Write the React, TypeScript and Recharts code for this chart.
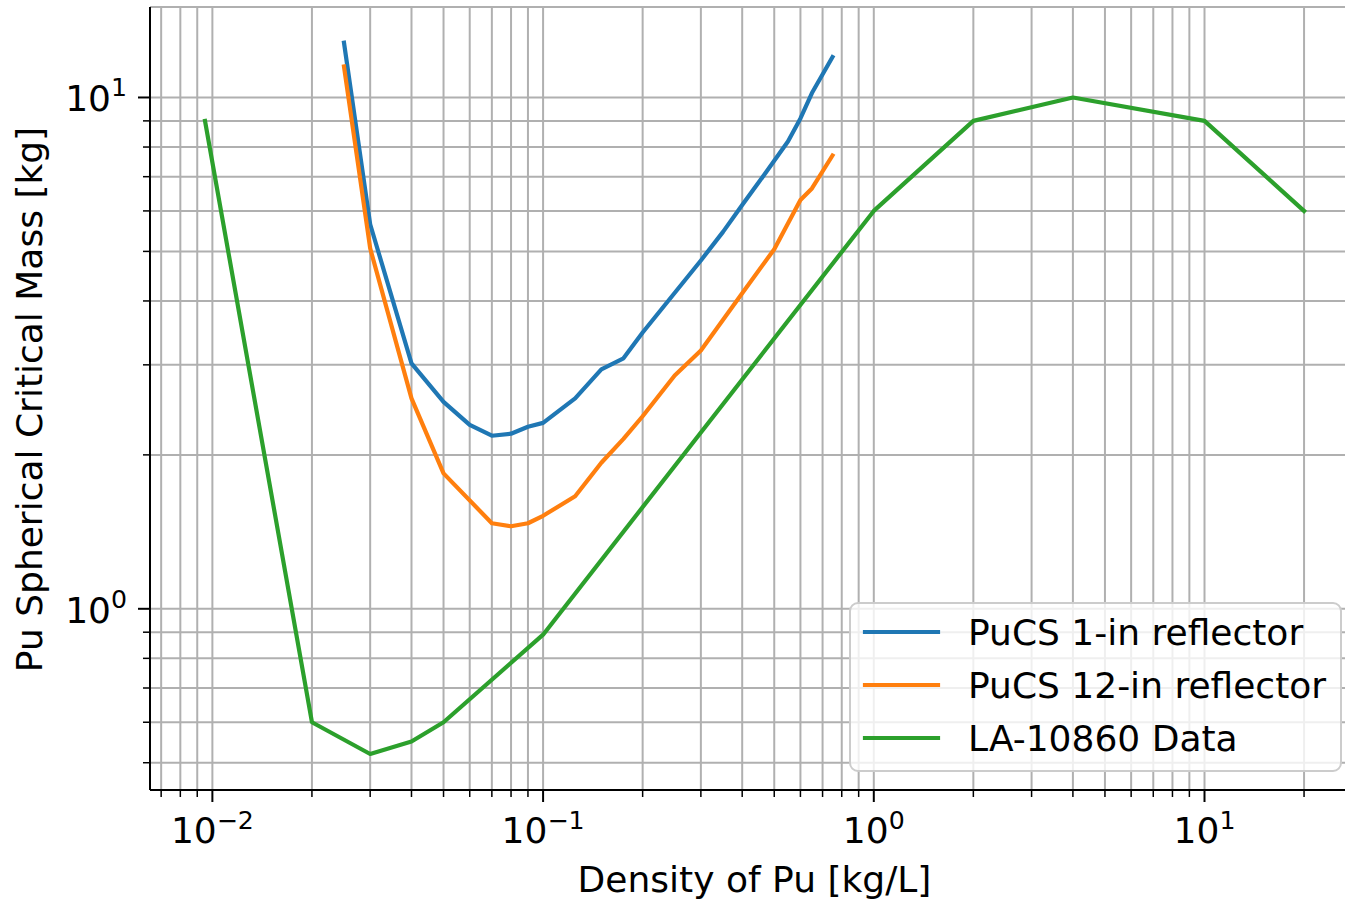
import React from "react";
import { LineChart, Line, XAxis, YAxis, CartesianGrid, Legend } from "recharts";

const FONT = "DejaVu Sans";

// PuCS 1-in reflector
const pucs1Density = [0.025, 0.03, 0.04, 0.05, 0.06, 0.07, 0.08, 0.09, 0.1, 0.125, 0.15, 0.175, 0.2, 0.3, 0.35, 0.4, 0.45, 0.55, 0.6, 0.65, 0.75];
const pucs1Mass = [12.8, 5.65, 3.02, 2.54, 2.29, 2.18, 2.2, 2.27, 2.31, 2.58, 2.94, 3.09, 3.47, 4.8, 5.46, 6.16, 6.84, 8.2, 9.1, 10.2, 12.0];

// PuCS 12-in reflector
const pucs12Density = [0.025, 0.03, 0.04, 0.05, 0.07, 0.08, 0.09, 0.1, 0.125, 0.15, 0.175, 0.2, 0.25, 0.3, 0.4, 0.5, 0.6, 0.65, 0.75];
const pucs12Mass = [11.5, 5.07, 2.58, 1.84, 1.47, 1.45, 1.47, 1.52, 1.66, 1.93, 2.15, 2.38, 2.86, 3.2, 4.14, 5.05, 6.3, 6.64, 7.7];

// LA-10860 Data
const laDensity = [0.0095, 0.02, 0.03, 0.04, 0.05, 0.1, 1, 2, 4, 10, 20];
const laMass = [9.0, 0.6, 0.52, 0.55, 0.6, 0.89, 6.0, 9.0, 10.0, 9.0, 6.0];

const seriesNames = ["PuCS 1-in reflector", "PuCS 12-in reflector", "LA-10860 Data"];

const xTicks = [0.007, 0.008, 0.009, 0.01, 0.02, 0.03, 0.04, 0.05, 0.06, 0.07, 0.08, 0.09, 0.1, 0.2, 0.3, 0.4, 0.5, 0.6, 0.7, 0.8, 0.9, 1, 2, 3, 4, 5, 6, 7, 8, 9, 10, 20];
const yTicks = [0.5, 0.6, 0.7, 0.8, 0.9, 1, 2, 3, 4, 5, 6, 7, 8, 9, 10];

const toPoints = (xs: number[], ys: number[]) => xs.map((x, i) => ({ x, y: ys[i] }));
const pucs1 = toPoints(pucs1Density, pucs1Mass);
const pucs12 = toPoints(pucs12Density, pucs12Mass);
const la = toPoints(laDensity, laMass);

const FS = 36;
const SUP = 25.2;

// exponent text for decade ticks, null for minor ones
function decadeExp(v: number): string | null {
  const e = Math.log10(v);
  const r = Math.round(e);
  if (Math.abs(e - r) > 1e-6) return null;
  return String(r).replace("-", "\u2212");
}

function XTick({ x, y, payload }: any) {
  const exp = decadeExp(payload.value);
  return (
    <g>
      <line x1={x} x2={x} y1={y} y2={y + (exp ? 12 : 7)} stroke="#000" strokeWidth={exp ? 2 : 1.5} />
      {exp && (
        <text x={x} y={y + 53} textAnchor="middle" fontFamily={FONT} fontSize={FS} fill="#000">
          10<tspan dy={-14} fontSize={SUP}>{exp}</tspan>
        </text>
      )}
    </g>
  );
}

function YTick({ x, y, payload }: any) {
  const exp = decadeExp(payload.value);
  return (
    <g>
      <line x1={x} x2={x - (exp ? 12 : 7)} y1={y} y2={y} stroke="#000" strokeWidth={exp ? 2 : 1.5} />
      {exp && (
        <text x={x - 23} y={y + 14} textAnchor="end" fontFamily={FONT} fontSize={FS} fill="#000">
          10<tspan dy={-15} fontSize={SUP}>{exp}</tspan>
        </text>
      )}
    </g>
  );
}

function LegendBox({ payload }: any) {
  const items = [...(payload || [])].sort(
    (a: any, b: any) => seriesNames.indexOf(a.value) - seriesNames.indexOf(b.value)
  );
  return (
    <svg width={494} height={172} style={{ display: "block" }}>
      <rect x={1} y={1} width={491} height={168} rx={8} fill="#fff" fillOpacity={0.8} stroke="#cccccc" strokeWidth={2} />
      {items.map((p: any, i: number) => (
        <g key={p.value}>
          <line x1={16} x2={89} y1={30 + i * 53} y2={30 + i * 53} stroke={p.color} strokeWidth={4.2} strokeLinecap="square" />
          <text x={119} y={43 + i * 53} fontFamily={FONT} fontSize={FS} fill="#000">{p.value}</text>
        </g>
      ))}
    </svg>
  );
}

export default function App() {
  return (
    <div style={{ position: "absolute", left: 0, top: 0, width: 1345, height: 901, overflow: "hidden", background: "#fff" }}>
      <LineChart width={1370} height={901} margin={{ top: 7, right: 11, bottom: 0, left: 0 }}>
        <CartesianGrid stroke="#b0b0b0" strokeWidth={2} />
        <XAxis
          type="number" dataKey="x" scale="log" domain={[0.006477, 29.32]} allowDataOverflow
          ticks={xTicks} interval={0} tickSize={0} tickMargin={0} tickLine={false}
          axisLine={{ stroke: "#000", strokeWidth: 2 }} height={111} tick={<XTick />}
          label={{
            content: (p: any) => {
              const vb = p.viewBox || { x: 150, y: 790, width: 1209 };
              return (
                <text x={vb.x + vb.width / 2} y={vb.y + 102} textAnchor="middle" fontFamily={FONT} fontSize={FS} fill="#000">
                  Density of Pu [kg/L]
                </text>
              );
            },
          }}
        />
        <XAxis
          xAxisId="top" orientation="top" type="number" scale="log" domain={[0.006477, 29.32]} allowDataOverflow
          height={0} tick={false} tickLine={false} axisLine={{ stroke: "#000", strokeWidth: 2 }}
        />
        <YAxis
          type="number" scale="log" domain={[0.4422, 15.03]} allowDataOverflow
          ticks={yTicks} interval={0} tickSize={0} tickMargin={0} tickLine={false}
          axisLine={{ stroke: "#000", strokeWidth: 2 }} width={150} tick={<YTick />}
          label={{
            content: (p: any) => {
              const vb = p.viewBox || { x: 0, y: 7, width: 150, height: 783 };
              const cy = vb.y + vb.height / 2 + 1;
              return (
                <text x={42} y={cy} transform={`rotate(-90, 42, ${cy})`} textAnchor="middle" fontFamily={FONT} fontSize={FS} fill="#000">
                  Pu Spherical Critical Mass [kg]
                </text>
              );
            },
          }}
        />
        <Legend
          layout="vertical" align="center" verticalAlign="middle"
          wrapperStyle={{ left: 849, top: 602, width: 494, height: 172 }}
          content={<LegendBox />}
        />
        <Line data={pucs1} dataKey="y" name={seriesNames[0]} type="linear" stroke="#1f77b4" strokeWidth={4.2}
          strokeLinejoin="round" strokeLinecap="square" dot={false} activeDot={false} isAnimationActive={false} />
        <Line data={pucs12} dataKey="y" name={seriesNames[1]} type="linear" stroke="#ff7f0e" strokeWidth={4.2}
          strokeLinejoin="round" strokeLinecap="square" dot={false} activeDot={false} isAnimationActive={false} />
        <Line data={la} dataKey="y" name={seriesNames[2]} type="linear" stroke="#2ca02c" strokeWidth={4.2}
          strokeLinejoin="round" strokeLinecap="square" dot={false} activeDot={false} isAnimationActive={false} />
      </LineChart>
    </div>
  );
}
